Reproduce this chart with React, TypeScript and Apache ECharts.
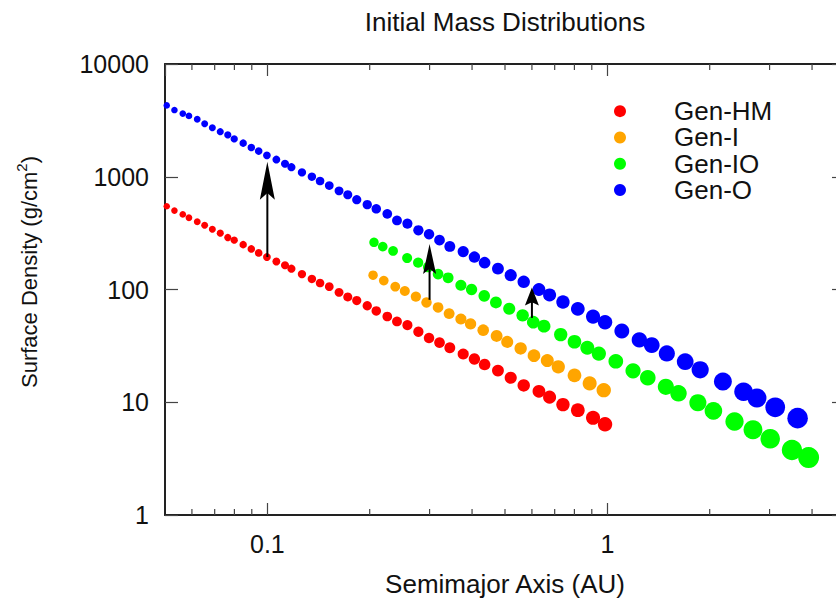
import React, { useEffect, useRef } from "react";
import * as echarts from "echarts";

// ---- data (semimajor axis in AU, surface density in g/cm^2) ----
const seriesNames = ["Gen-HM", "Gen-I", "Gen-IO", "Gen-O"];

const aGenHM = [
  0.0506, 0.0533, 0.0564, 0.0588, 0.0622, 0.0654, 0.0689, 0.0727, 0.0765, 0.0799,
  0.0849, 0.0897, 0.0943, 0.0997, 0.1063, 0.1127, 0.1177, 0.1264, 0.1352, 0.1429,
  0.1521, 0.1625, 0.1724, 0.1832, 0.1967, 0.2091, 0.2253, 0.2406, 0.2582, 0.2781,
  0.2989, 0.3209, 0.3441, 0.3767, 0.4064, 0.4355, 0.4767, 0.5197, 0.5676, 0.6292,
  0.6762, 0.7404, 0.8188, 0.9077, 0.9845,
];
const sigmaGenHM = [
  548, 501, 463, 433, 399, 371, 342, 316, 289, 274,
  250, 229, 211, 194, 177, 164, 153, 137, 124, 114,
  106, 94.3, 86.0, 79.8, 71.8, 64.6, 57.6, 52.1, 48.3, 42.2,
  37.1, 33.8, 30.4, 26.8, 24.2, 21.6, 19.1, 16.5, 14.1, 12.5,
  11.1, 9.53, 8.5, 7.28, 6.37,
];

const aGenI = [
  0.2046, 0.22, 0.2378, 0.2537, 0.2734, 0.2938, 0.3178, 0.3425, 0.3709, 0.396,
  0.4314, 0.4724, 0.5076, 0.5559, 0.6084, 0.6658, 0.7173, 0.8004, 0.887, 0.9759,
];
const sigmaGenI = [
  134, 120, 106, 97.0, 86.5, 76.7, 69.3, 61.1, 54.8, 49.5,
  43.6, 38.7, 34.3, 30.0, 25.9, 23.4, 20.6, 17.3, 14.7, 12.8,
];

const aGenIO = [
  0.2059, 0.2185, 0.2343, 0.2577, 0.2777, 0.2971, 0.3178, 0.3402, 0.3709, 0.3987,
  0.4344, 0.4702, 0.5145, 0.5634, 0.6055, 0.6511, 0.7291, 0.8004, 0.8731, 0.944,
  1.059, 1.19, 1.315, 1.486, 1.619, 1.846, 2.051, 2.366, 2.681, 3.013,
  3.491, 3.908,
];
const sigmaGenIO = [
  262, 240, 220, 190, 173, 158, 137, 127, 109, 100,
  87.8, 76.7, 67.5, 59.0, 51.3, 47.3, 39.8, 34.4, 30.4, 27.0,
  23.1, 19.0, 16.5, 13.7, 12.0, 9.9, 8.38, 6.75, 5.71, 4.74,
  3.77, 3.23,
];

const aGenO = [
  0.0506, 0.0533, 0.0564, 0.0588, 0.0622, 0.0654, 0.0689, 0.0727, 0.0765, 0.0799,
  0.0849, 0.0897, 0.0943, 0.0997, 0.1063, 0.1127, 0.1177, 0.1264, 0.1352, 0.1429,
  0.1521, 0.1625, 0.1724, 0.1832, 0.1967, 0.2091, 0.2253, 0.2406, 0.2582, 0.2781,
  0.2989, 0.3209, 0.3441, 0.3767, 0.4064, 0.4355, 0.4767, 0.5197, 0.5676, 0.6292,
  0.6762, 0.7404, 0.8188, 0.9077, 0.9845, 1.103, 1.242, 1.351, 1.496, 1.694,
  1.875, 2.187, 2.515, 2.754, 3.117, 3.627,
];
const sigmaGenO = [
  4295, 3906, 3634, 3462, 3239, 2947, 2719, 2508, 2348, 2166,
  1987, 1818, 1691, 1548, 1419, 1302, 1216, 1093, 1002, 917,
  836, 750, 692, 626, 566, 519, 469, 410, 384, 335,
  309, 274, 241, 217, 194, 173, 153, 134, 117, 100,
  89.5, 77.4, 67.3, 57.5, 51.3, 42.8, 35.7, 32.1, 27.1, 22.9,
  19.4, 15.3, 12.4, 10.9, 9.02, 7.23,
];

// arrows: position (AU), start and tip surface density
const arrowA = [0.1, 0.3, 0.6];
const arrowFrom = [194, 81, 56];
const arrowTo = [1356, 253, 104];

// minor tick values on the x axis
const xMinorTicks = [0.06, 0.07, 0.08, 0.09, 0.2, 0.3, 0.4, 0.5, 0.6, 0.7, 0.8, 0.9, 2, 3, 4];

// ---- styles ----
const seriesColors = ["#ff0000", "#ffa500", "#00ff00", "#0000ff"];
const arrowHeadLength = [38, 30, 18];
const arrowHeadWidth = [15, 13, 14];
const FONT = '"Liberation Sans", Arial, Helvetica, sans-serif';
const TEXT = "#111";
const AXIS = "#222";
const TICK = "#444";

const zip = (a: number[], s: number[]) => a.map((v, i) => [v, s[i]]);

const fmtDecade = (v: number) => {
  const l = Math.log10(v);
  return Math.abs(l - Math.round(l)) < 1e-6 ? String(+v.toPrecision(6)) : "";
};

export default function App() {
  const ref = useRef<HTMLDivElement>(null);

  useEffect(() => {
    if (!ref.current) return;
    const chart = echarts.init(ref.current, undefined, { renderer: "svg" });

    const scatter = (name: string, color: string, a: number[], s: number[]) => ({
      type: "scatter",
      name,
      data: zip(a, s),
      symbol: "circle",
      symbolSize: (val: number[]) => 14.5 * Math.pow(val[0], 0.27),
      itemStyle: { color, opacity: 1 },
      emphasis: { disabled: true },
      z: 2,
    });

    const axisLineStyle = { show: true, onZero: false, lineStyle: { color: AXIS, width: 2 } };

    const option: any = {
      animation: false,
      title: {
        text: "Initial Mass Distributions",
        left: 505,
        top: 9,
        textAlign: "center",
        padding: 0,
        textStyle: { fontSize: 26, fontWeight: "normal", color: TEXT, fontFamily: FONT },
      },
      legend: {
        data: seriesNames,
        orient: "vertical",
        left: 614,
        top: 98,
        padding: 0,
        itemGap: 0,
        itemWidth: 12,
        itemHeight: 12,
        icon: "circle",
        selectedMode: false,
        formatter: (name: string) => `{pad|}${name}`,
        textStyle: {
          fontSize: 26,
          color: TEXT,
          fontFamily: FONT,
          lineHeight: 26.3,
          rich: { pad: { width: 43 } },
        },
      },
      grid: { left: 165, top: 64, width: 680, height: 458, containLabel: false },
      xAxis: [
        {
          type: "log",
          logBase: 10,
          min: 0.05,
          max: 5,
          position: "bottom",
          name: "Semimajor Axis (AU)",
          nameLocation: "middle",
          nameGap: 56,
          nameTextStyle: { fontSize: 26, color: TEXT, fontFamily: FONT },
          axisLine: axisLineStyle,
          axisTick: { show: true, inside: true, length: 12, lineStyle: { color: TICK, width: 1.2 } },
          axisLabel: {
            show: true,
            margin: 16,
            fontSize: 25,
            color: TEXT,
            fontFamily: FONT,
            showMinLabel: false,
            showMaxLabel: false,
            formatter: fmtDecade,
          },
          splitLine: { show: false },
          minorTick: { show: false },
        },
        {
          type: "log",
          logBase: 10,
          min: 0.05,
          max: 5,
          position: "top",
          axisLine: axisLineStyle,
          axisTick: { show: true, inside: true, length: 12, lineStyle: { color: TICK, width: 1.2 } },
          axisLabel: { show: false },
          splitLine: { show: false },
        },
      ],
      yAxis: [
        {
          type: "log",
          logBase: 10,
          min: 1,
          max: 10000,
          position: "left",
          axisLine: axisLineStyle,
          axisTick: { show: true, inside: true, length: 13, lineStyle: { color: TICK, width: 1.2 } },
          axisLabel: {
            show: true,
            margin: 16,
            fontSize: 25,
            color: TEXT,
            fontFamily: FONT,
            showMinLabel: true,
            showMaxLabel: true,
            formatter: fmtDecade,
          },
          splitLine: { show: false },
        },
        {
          type: "log",
          logBase: 10,
          min: 1,
          max: 10000,
          position: "right",
          axisLine: axisLineStyle,
          axisTick: { show: true, inside: true, length: 13, lineStyle: { color: TICK, width: 1.2 } },
          axisLabel: { show: false },
          splitLine: { show: false },
        },
      ],
      graphic: [
        {
          type: "text",
          x: 29,
          y: 272,
          rotation: Math.PI / 2,
          silent: true,
          style: {
            text: "Surface Density (g/cm{sup|2})",
            fill: TEXT,
            fontSize: 22,
            fontFamily: FONT,
            lineHeight: 30,
            align: "center",
            verticalAlign: "middle",
            rich: {
              sup: { fontSize: 15, fontFamily: FONT, fill: TEXT, verticalAlign: "top", lineHeight: 15 },
            },
          },
        },
      ],
      series: [
        scatter(seriesNames[0], seriesColors[0], aGenHM, sigmaGenHM),
        scatter(seriesNames[1], seriesColors[1], aGenI, sigmaGenI),
        scatter(seriesNames[2], seriesColors[2], aGenIO, sigmaGenIO),
        scatter(seriesNames[3], seriesColors[3], aGenO, sigmaGenO),
        {
          type: "custom",
          name: "minorTicks",
          silent: true,
          z: 1,
          data: xMinorTicks.map((v) => [v, 1]),
          encode: { x: 0, y: 1 },
          renderItem: (_params: any, api: any) => {
            const v = api.value(0);
            const b = api.coord([v, 1]);
            const t = api.coord([v, 10000]);
            const st = { stroke: TICK, lineWidth: 1.2 };
            return {
              type: "group",
              children: [
                { type: "line", shape: { x1: b[0], y1: b[1], x2: b[0], y2: b[1] - 6 }, style: st },
                { type: "line", shape: { x1: t[0], y1: t[1], x2: t[0], y2: t[1] + 6 }, style: st },
              ],
            };
          },
        },
        {
          type: "custom",
          name: "arrows",
          silent: true,
          z: 10,
          data: arrowA.map((a, i) => [a, arrowFrom[i], arrowTo[i]]),
          encode: { x: 0, y: [1, 2] },
          renderItem: (params: any, api: any) => {
            const i = params.dataIndex;
            const p0 = api.coord([api.value(0), api.value(1)]);
            const p1 = api.coord([api.value(0), api.value(2)]);
            const L = arrowHeadLength[i];
            const W = arrowHeadWidth[i];
            return {
              type: "group",
              children: [
                {
                  type: "line",
                  shape: { x1: p0[0], y1: p0[1], x2: p1[0], y2: p1[1] + L * 0.8 },
                  style: { stroke: "#000", lineWidth: 2 },
                },
                {
                  type: "polygon",
                  shape: {
                    points: [
                      [p1[0], p1[1]],
                      [p1[0] + W / 2, p1[1] + L],
                      [p1[0], p1[1] + L * 0.82],
                      [p1[0] - W / 2, p1[1] + L],
                    ],
                  },
                  style: { fill: "#000" },
                },
              ],
            };
          },
        },
      ],
    };

    chart.setOption(option);
    return () => chart.dispose();
  }, []);

  return (
    <div
      ref={ref}
      style={{ position: "fixed", left: 0, top: 0, width: 850, height: 602, background: "#fff" }}
    />
  );
}
